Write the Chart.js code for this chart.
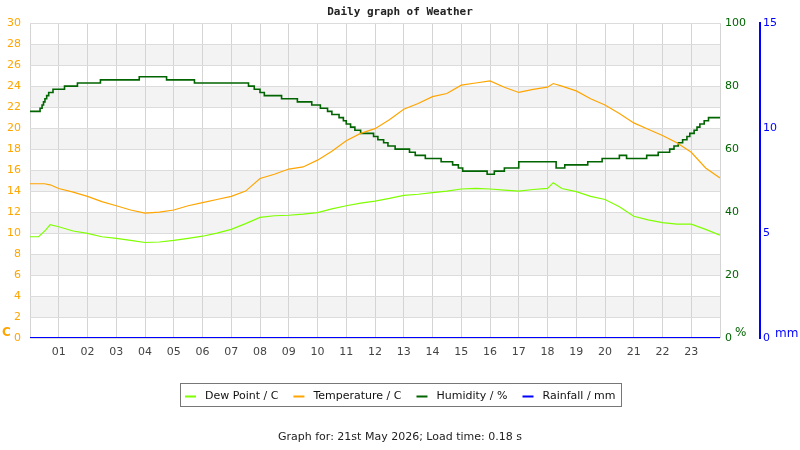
<!DOCTYPE html>
<html><head><meta charset="utf-8">
<script src="https://cdn.jsdelivr.net/npm/chart.js@4.4.1/dist/chart.umd.min.js"></script>
<style>html,body{margin:0;padding:0;background:#fff;}</style>
</head><body>
<canvas id="c" width="800" height="450"></canvas>
<script>
const chartTitle = 'Daily graph of Weather';
const footerText = 'Graph for: 21st May 2026; Load time: 0.18 s';
const hourLabels = ['01','02','03','04','05','06','07','08','09','10','11','12','13','14','15','16','17','18','19','20','21','22','23'];

const dewHours = [0,0.3,0.55,0.7,1,1.5,2,2.5,3,3.5,4,4.5,5,5.5,6,6.5,7,7.5,8,8.5,9,9.5,10,10.5,11,11.5,12,12.5,13,13.5,14,14.5,15,15.5,16,16.5,17,17.5,18,18.2,18.5,19,19.5,20,20.5,21,21.5,22,22.5,23,23.5,24];
const dewValues = [9.65,9.65,10.3,10.8,10.6,10.2,9.97,9.65,9.5,9.3,9.1,9.15,9.3,9.5,9.7,10.0,10.35,10.9,11.5,11.65,11.7,11.8,11.95,12.3,12.6,12.85,13.05,13.3,13.6,13.7,13.85,14.0,14.2,14.25,14.2,14.1,14.0,14.15,14.25,14.8,14.25,13.95,13.5,13.2,12.5,11.6,11.25,11.0,10.85,10.85,10.35,9.8];

const tempHours = [0,0.5,0.7,1,1.5,2,2.5,3,3.5,4,4.5,5,5.5,6,6.5,7,7.5,8,8.5,9,9.5,10,10.5,11,11.5,12,12.5,13,13.5,14,14.5,15,15.5,16,16.5,17,17.5,18,18.2,18.5,19,19.5,20,20.5,21,21.5,22,22.5,23,23.5,24];
const tempValues = [14.7,14.7,14.6,14.25,13.9,13.5,13.0,12.6,12.2,11.9,12.0,12.2,12.6,12.9,13.2,13.5,14.0,15.2,15.6,16.1,16.3,16.95,17.8,18.8,19.5,19.95,20.8,21.8,22.35,23.0,23.3,24.1,24.3,24.5,23.9,23.4,23.7,23.9,24.25,24.0,23.55,22.8,22.2,21.4,20.5,19.9,19.3,18.6,17.7,16.2,15.25];

const humHours = [0,0.35,0.42,0.47,0.52,0.58,0.65,0.8,1.2,1.65,2.45,3.8,4.75,5.72,7.6,7.8,8.0,8.15,8.75,9.3,9.8,10.1,10.35,10.5,10.75,10.9,11.0,11.15,11.3,11.5,11.95,12.1,12.3,12.45,12.7,13.2,13.4,13.75,14.3,14.7,14.9,15.05,15.9,16.15,16.5,17.0,18.3,18.6,19.4,19.9,20.5,20.75,21.45,21.85,22.25,22.4,22.55,22.7,22.85,22.95,23.1,23.2,23.3,23.45,23.6,24];
const humValues = [72,73,74,75,76,77,78,79,80,81,82,83,82,81,80,79,78,77,76,75,74,73,72,71,70,69,68,67,66,65,64,63,62,61,60,59,58,57,56,55,54,53,52,53,54,56,54,55,56,57,58,57,58,59,60,61,62,63,64,65,66,67,68,69,70,70];

const rainHours = [0,24];
const rainValues = [0,0];

const tempTicks = {min:0, max:30, step:2};
const humTicks = {min:0, max:100, step:20};
const rainTicks = {min:0, max:15, step:5};

function pts(xs, ys){ return xs.map((x,i)=>({x:x, y:ys[i]})); }

const FONT = 'DejaVu Sans';

const bandPlugin = {
  id:'bands',
  beforeDraw(chart){
    const {ctx, chartArea:a, scales} = chart;
    const y = scales.y;
    ctx.save();
    ctx.fillStyle = '#f3f3f3';
    for (let v = tempTicks.min + 2; v < tempTicks.max; v += 4){
      const t = y.getPixelForValue(v + 2), b = y.getPixelForValue(v);
      ctx.fillRect(a.left, t, a.right - a.left, b - t);
    }
    ctx.restore();
  }
};

const legendPlugin = {
  id:'boxLegend',
  afterDraw(chart){
    const ctx = chart.ctx;
    ctx.save();
    ctx.font = '11px "' + FONT + '"';
    const items = chart.data.datasets.map(d => ({label:d.label, color:d.borderColor, w:ctx.measureText(d.label).width}));
    const sample = 11, gapT = 9, gapI = 15, padL = 5, padR = 5;
    const total = padL + padR + items.reduce((s,it)=>s + sample + gapT + it.w, 0) + gapI*(items.length-1);
    const x0 = Math.round(400.5 - total/2);
    const top = 383.5, h = 23;
    ctx.strokeStyle = '#777'; ctx.lineWidth = 1;
    ctx.strokeRect(x0 + 0.5, top, Math.round(total), h);
    let x = x0 + padL;
    const cy = 396;
    items.forEach(it => {
      ctx.strokeStyle = it.color; ctx.lineWidth = 2;
      ctx.beginPath(); ctx.moveTo(x, cy + 0.5); ctx.lineTo(x + sample, cy + 0.5); ctx.stroke();
      x += sample + gapT;
      ctx.fillStyle = '#111'; ctx.textBaseline = 'middle'; ctx.textAlign = 'left';
      ctx.fillText(it.label, x, cy);
      x += it.w + gapI;
    });
    ctx.restore();
  }
};

const unitPlugin = {
  id:'units',
  afterDraw(chart){
    const ctx = chart.ctx;
    ctx.save();
    ctx.textBaseline = 'middle'; ctx.textAlign = 'left';
    ctx.font = 'bold 12px "' + FONT + '"'; ctx.fillStyle = '#FFA500';
    ctx.fillText('C', 2, 333);
    ctx.font = '12px "' + FONT + '"'; ctx.fillStyle = '#006400';
    ctx.fillText('%', 735, 333);
    ctx.fillStyle = '#0000FF';
    ctx.fillText('mm', 775, 334);
    ctx.restore();
  }
};

new Chart(document.getElementById('c'), {
  type:'line',
  data:{
    datasets:[
      {label:'Dew Point / C', data:pts(dewHours, dewValues), borderColor:'#7FFF00', backgroundColor:'#7FFF00', borderWidth:1.2, pointRadius:0, tension:0, yAxisID:'y'},
      {label:'Temperature / C', data:pts(tempHours, tempValues), borderColor:'#FFA500', backgroundColor:'#FFA500', borderWidth:1.2, pointRadius:0, tension:0, yAxisID:'y'},
      {label:'Humidity / %', data:pts(humHours, humValues), borderColor:'#006400', backgroundColor:'#006400', borderWidth:1.6, pointRadius:0, stepped:'before', yAxisID:'y1'},
      {label:'Rainfall / mm', data:pts(rainHours, rainValues), borderColor:'#0000FF', backgroundColor:'#0000FF', borderWidth:2, pointRadius:0, tension:0, yAxisID:'y2'}
    ]
  },
  options:{
    responsive:false,
    animation:false,
    devicePixelRatio:1,
    layout:{padding:0},
    plugins:{
      legend:{display:false},
      tooltip:{enabled:false},
      title:{display:true, text:chartTitle, color:'#222', font:{family:'DejaVu Sans Mono', weight:'bold', size:11}, padding:{top:6, bottom:4}},
      subtitle:{display:true, text:footerText, position:'bottom', color:'#222', font:{family:FONT, size:11}, padding:{top:0, bottom:6}}
    },
    scales:{
      x:{type:'linear', min:0, max:24,
         ticks:{stepSize:1, autoSkip:false, maxRotation:0, color:'#444', padding:8, font:{family:FONT, size:11},
                callback:(v)=> (v>=1 && v<=hourLabels.length) ? hourLabels[v-1] : ''},
         grid:{color:'#d4d4d4', drawTicks:false}, border:{display:false},
         afterFit:(s)=>{ s.height = 92.8; }},
      y:{position:'left', min:tempTicks.min, max:tempTicks.max,
         ticks:{stepSize:tempTicks.step, color:'#FFA500', padding:9, font:{family:FONT, size:11}},
         grid:{color:'#dcdcdc', drawTicks:false}, border:{display:false},
         afterFit:(s)=>{ s.width = 30; }},
      y1:{position:'right', min:humTicks.min, max:humTicks.max,
         ticks:{stepSize:humTicks.step, color:'#006400', padding:5, font:{family:FONT, size:11}},
         grid:{display:false, drawTicks:false}, border:{display:false},
         afterFit:(s)=>{ s.width = 40; }},
      y2:{position:'right', min:rainTicks.min, max:rainTicks.max,
         ticks:{stepSize:rainTicks.step, color:'#0000FF', padding:3, font:{family:FONT, size:11}},
         grid:{display:false, drawTicks:false}, border:{display:true, color:'#0000FF', width:2},
         afterFit:(s)=>{ s.width = 40; }}
    }
  },
  plugins:[bandPlugin, legendPlugin, unitPlugin]
});
</script>
</body></html>
